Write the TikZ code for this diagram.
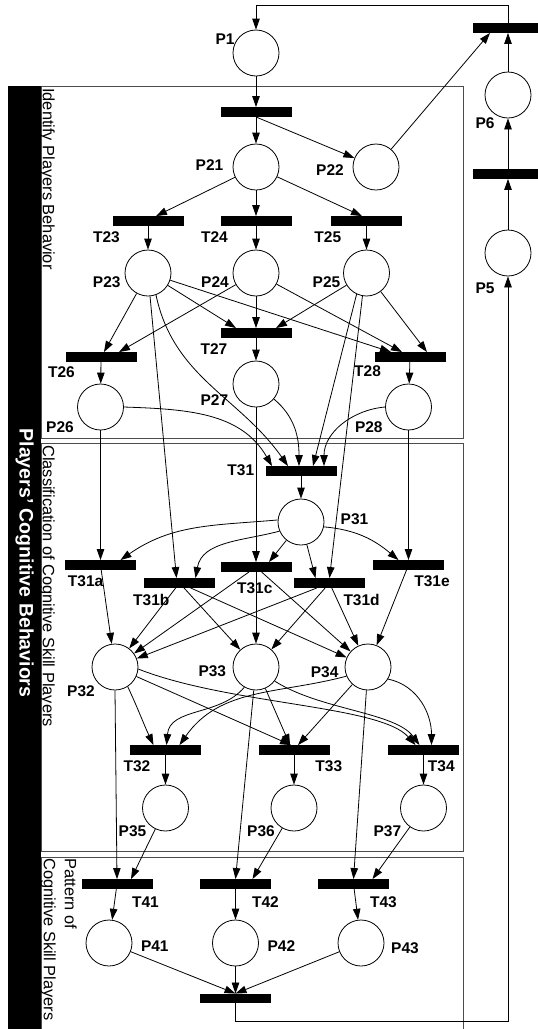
\documentclass[tikz,border=0pt]{standalone}
\usepackage{fontspec}
\setmainfont{Liberation Sans}
\usetikzlibrary{arrows.meta}

\begin{document}
\begin{tikzpicture}[x=1pt, y=1pt,
  place/.style={circle, draw=black, line width=0.8pt, fill=white, minimum size=46pt, inner sep=0pt},
  trans/.style={rectangle, fill=black, minimum width=71pt, minimum height=9.5pt, inner sep=0pt},
  arc/.style={-{Triangle[length=11pt, width=7.5pt]}, line width=0.8pt},
  lbl/.style={font=\bfseries\fontsize{15.5}{18}\selectfont, inner sep=0pt},
  zone/.style={draw=black!70, line width=1pt},
  zonetext/.style={rotate=-90, anchor=north west, inner sep=0pt, align=left, font=\fontsize{16.4}{21}\selectfont}]
\useasboundingbox (0,0) rectangle (538,-1029);
\fill[black] (8,-86) rectangle (41,-1040);
\draw[zone] (41,-86) rectangle (463,-438);
\draw[zone] (41,-443) rectangle (463,-851);
\draw[zone] (41,-857) rectangle (463,-1040);
\node[rotate=-90, text=white, inner sep=0pt, font=\bfseries\fontsize{19.5}{22}\selectfont] (band) at (24.5,-563) {Players’ Cognitive Behaviors};
\node[zonetext] (zone1) at (55,-88) {Identify Players Behavior};
\node[zonetext] (zone2) at (55,-445) {Classification of Cognitive Skill Players};
\node[zonetext] (zone3) at (77,-858) {Pattern of\\Cognitive Skill Players};

\node[place] (p1) at (256,-53) {};
\node[trans] (t1) at (256,-112) {};
\node[place] (p21) at (256,-167) {};
\node[place] (p22) at (376,-167) {};
\node[trans] (ttop) at (508,-28) {};
\node[place] (p6) at (508,-95) {};
\node[trans] (tmid) at (508,-174) {};
\node[place] (p5) at (508,-253) {};
\node[trans] (t23) at (148,-221) {};
\node[trans] (t24) at (256,-221) {};
\node[trans] (t25) at (366.5,-221) {};
\node[place] (p23) at (148,-273) {};
\node[place] (p24) at (256,-273) {};
\node[place] (p25) at (366.5,-273) {};
\node[trans] (t26) at (101,-357) {};
\node[trans] (t27) at (256,-333) {};
\node[trans] (t28) at (410,-357) {};
\node[place] (p26) at (100.5,-407) {};
\node[place] (p27) at (256,-384) {};
\node[place] (p28) at (408.5,-407) {};
\node[trans] (t31) at (301,-471) {};
\node[place] (p31) at (301,-522) {};
\node[trans] (t31a) at (100.5,-565) {};
\node[trans] (t31b) at (179.5,-583) {};
\node[trans] (t31c) at (256,-567) {};
\node[trans] (t31d) at (329.5,-583) {};
\node[trans] (t31e) at (408.5,-565) {};
\node[place] (p32) at (115,-667) {};
\node[place] (p33) at (256,-667) {};
\node[place] (p34) at (368,-667) {};
\node[trans] (t32) at (165.5,-750) {};
\node[trans] (t33) at (294,-750) {};
\node[trans] (t34) at (423.5,-750) {};
\node[place] (p35) at (165.5,-808) {};
\node[place] (p36) at (294,-808) {};
\node[place] (p37) at (423.5,-808) {};
\node[trans] (t41) at (117,-884) {};
\node[trans] (t42) at (235.5,-884) {};
\node[trans] (t43) at (353.5,-884) {};
\node[place] (p41) at (109,-943) {};
\node[place] (p42) at (235.5,-943) {};
\node[place] (p43) at (361,-943) {};
\node[trans] (tbot) at (235.5,-998.5) {};

\node[lbl] (lp1) at (225,-39) {P1};
\node[lbl] (lp21) at (209.5,-165) {P21};
\node[lbl] (lp22) at (330,-170) {P22};
\node[lbl] (lp6) at (485,-123) {P6};
\node[lbl] (lp5) at (485,-288) {P5};
\node[lbl] (lt23) at (106.4,-237) {T23};
\node[lbl] (lt24) at (214.4,-237) {T24};
\node[lbl] (lt25) at (327.8,-237) {T25};
\node[lbl] (lp23) at (106.7,-282) {P23};
\node[lbl] (lp24) at (215,-282) {P24};
\node[lbl] (lp25) at (326.5,-282) {P25};
\node[lbl] (lt26) at (61.4,-372) {T26};
\node[lbl] (lt27) at (214,-349.5) {T27};
\node[lbl] (lt28) at (367.6,-371) {T28};
\node[lbl] (lp26) at (60,-426.7) {P26};
\node[lbl] (lp27) at (214.4,-400.5) {P27};
\node[lbl] (lp28) at (368.8,-426.7) {P28};
\node[lbl] (lt31) at (240.8,-470.5) {T31};
\node[lbl] (lp31) at (354.5,-519.5) {P31};
\node[lbl] (lt31a) at (85.6,-581.5) {T31a};
\node[lbl] (lt31b) at (151.3,-599.5) {T31b};
\node[lbl] (lt31c) at (254.8,-588.3) {T31c};
\node[lbl] (lt31d) at (361.6,-600) {T31d};
\node[lbl] (lt31e) at (432,-581.5) {T31e};
\node[lbl] (lp32) at (81,-691) {P32};
\node[lbl] (lp33) at (212.3,-671) {P33};
\node[lbl] (lp34) at (324.6,-672) {P34};
\node[lbl] (lt32) at (137,-766) {T32};
\node[lbl] (lt33) at (328.8,-766) {T33};
\node[lbl] (lt34) at (441.3,-766) {T34};
\node[lbl] (lp35) at (132.5,-831.5) {P35};
\node[lbl] (lp36) at (261,-831.5) {P36};
\node[lbl] (lp37) at (387.4,-831.5) {P37};
\node[lbl] (lt41) at (145.4,-902) {T41};
\node[lbl] (lt42) at (265.4,-902) {T42};
\node[lbl] (lt43) at (383.5,-902) {T43};
\node[lbl] (lp41) at (154.8,-946.3) {P41};
\node[lbl] (lp42) at (281.4,-946) {P42};
\node[lbl] (lp43) at (405,-948.3) {P43};

\draw[arc] (ttop.north) -- ++(0,17.5) -| (p1.north);
\draw[arc] (p1) -- (t1);
\draw[arc] (t1) -- (p21);
\draw[arc] (t1.south) -- (p22);
\draw[arc] (p22) -- ([xshift=-18]ttop.south);
\draw[arc] (p6) -- (ttop);
\draw[arc] (tmid) -- (p6);
\draw[arc] (p5) -- (tmid);
\draw[arc] (tbot.south) -- ++(0,-17.5) -| (p5.south);

\draw[arc] (p21) -- ([xshift=8]t23.north);
\draw[arc] (p21) -- (t24);
\draw[arc] (p21) -- ([xshift=-4.5]t25.north);
\draw[arc] (t23) -- (p23);
\draw[arc] (t24) -- (p24);
\draw[arc] (t25) -- (p25);
\draw[arc] (p23) -- ([xshift=3]t26.north);
\draw[arc] (p24) -- ([xshift=18]t26.north);
\draw[arc] (p23) -- ([xshift=-20]t27.north);
\draw[arc] (p24) -- (t27);
\draw[arc] (p25) -- ([xshift=20]t27.north);
\draw[arc] (p23) -- ([xshift=-19]t28.north);
\draw[arc] (p24) -- ([xshift=-8]t28.north);
\draw[arc] (p25) -- ([xshift=17]t28.north);
\draw[arc] (t26) -- (p26);
\draw[arc] (t27) -- (p27);
\draw[arc] (t28) -- (p28);
\draw[arc] (p26.east) to[out=-2, in=120] ([xshift=-29]t31.north);
\draw[arc] (p23.-70) to[out=-78, in=125] ([xshift=-13]t31.north);
\draw[arc] (p27.-40) to[out=-40, in=90] ([xshift=-2]t31.north);
\draw[arc] (p25.-115) -- ([xshift=12]t31.north);
\draw[arc] (p28.west) to[out=185, in=90] ([xshift=23]t31.north);
\draw[arc] (p23.-85) -- ([xshift=-3]t31b.north);
\draw[arc] (p25.-100) -- (t31d.north);
\draw[arc] (p26) -- (t31a);
\draw[arc] (p27) -- (t31c);
\draw[arc] (p28) -- (t31e);
\draw[arc] (t31) -- (p31);

\draw[arc] (p31.175) to[out=185, in=35] ([xshift=20]t31a.north);
\draw[arc] (p31.-157) to[out=-165, in=80] ([xshift=16]t31b.north);
\draw[arc] (p31) -- ([xshift=13]t31c.north);
\draw[arc] (p31) -- ([xshift=-14]t31d.north);
\draw[arc] (p31.-12) to[out=-5, in=140] ([xshift=-10]t31e.north);
\draw[arc] (t31a) -- (p32);
\draw[arc] (t31b) -- (p32);
\draw[arc] (t31c) -- (p32);
\draw[arc] (t31d) -- (p32);
\draw[arc] (t31b) -- (p33);
\draw[arc] (t31c) -- (p33);
\draw[arc] (t31d) -- (p33);
\draw[arc] (t31b) -- (p34);
\draw[arc] (t31c) -- (p34);
\draw[arc] (t31d) -- (p34);
\draw[arc] (t31e) -- (p34);

\draw[arc] (p32.-57) to[out=-65, in=115] ([xshift=-12]t32.north);
\draw[arc] (p33.-120) to[out=-130, in=85] ([xshift=1]t32.north);
\draw[arc] (p34.-157) to[out=-165, in=55] ([xshift=14]t32.north);
\draw[arc] (p32) -- ([xshift=-3]t33.north);
\draw[arc] (p33) -- ([xshift=-4]t33.north);
\draw[arc] (p34) -- ([xshift=4]t33.north);
\draw[arc] (p32.-5) .. controls (230,-705) and (380,-705) .. ([xshift=-8]t34.north);
\draw[arc] (p33.-37) .. controls (320,-710) and (395,-712) .. ([xshift=-4]t34.north);
\draw[arc] (p34.-31) to[out=-12, in=90] ([xshift=8]t34.north);
\draw[arc] (t32) -- (p35);
\draw[arc] (t33) -- (p36);
\draw[arc] (t34) -- (p37);

\draw[arc] (p32.south) -- (t41.north);
\draw[arc] (p33) -- (t42.north);
\draw[arc] (p34) -- (t43.north);
\draw[arc] (p35) -- ([xshift=14]t41.north);
\draw[arc] (p36) -- ([xshift=17]t42.north);
\draw[arc] (p37) -- ([xshift=19]t43.north);
\draw[arc] (t41) -- (p41);
\draw[arc] (t42) -- (p42);
\draw[arc] (t43) -- (p43);
\draw[arc] (p41) -- (tbot.north);
\draw[arc] (p42) -- (tbot.north);
\draw[arc] (p43) -- (tbot.north);
\end{tikzpicture}
\end{document}
